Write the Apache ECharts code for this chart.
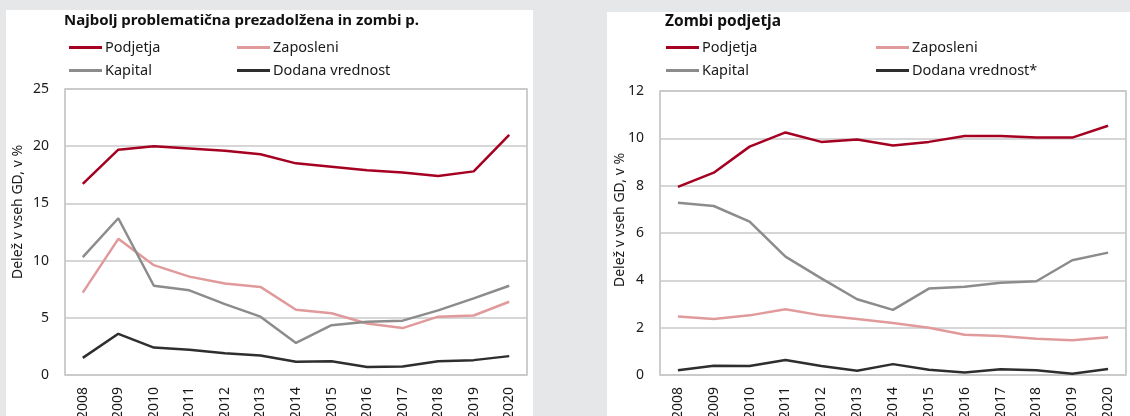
<!DOCTYPE html>
<html>
<head>
<meta charset="utf-8">
<script src="https://cdn.jsdelivr.net/npm/echarts@6/dist/echarts.min.js"></script>
<style>
  html, body { margin: 0; padding: 0; background: #e6e7e9; }
  #chart { width: 1130px; height: 416px; }
</style>
</head>
<body>
<div id="chart"></div>
<script>
  'use strict';

  var years = ['2008', '2009', '2010', '2011', '2012', '2013', '2014', '2015', '2016', '2017', '2018', '2019', '2020'];

  // levo: najbolj problematična prezadolžena in zombi podjetja
  var probPodjetja = [16.7, 19.7, 20.0, 19.8, 19.6, 19.3, 18.5, 18.2, 17.9, 17.7, 17.4, 17.8, 21.0];
  var probZaposleni = [7.2, 11.9, 9.6, 8.6, 8.0, 7.7, 5.7, 5.4, 4.5, 4.1, 5.1, 5.2, 6.4];
  var probKapital = [10.3, 13.7, 7.8, 7.4, 6.2, 5.1, 2.8, 4.35, 4.65, 4.75, 5.65, 6.7, 7.8];
  var probDodana = [1.5, 3.6, 2.4, 2.2, 1.9, 1.7, 1.15, 1.2, 0.7, 0.75, 1.2, 1.3, 1.65];

  // desno: zombi podjetja
  var zombiPodjetja = [7.95, 8.55, 9.65, 10.25, 9.85, 9.95, 9.7, 9.85, 10.1, 10.1, 10.03, 10.03, 10.53];
  var zombiZaposleni = [2.47, 2.37, 2.52, 2.78, 2.52, 2.37, 2.2, 2.0, 1.7, 1.65, 1.53, 1.47, 1.59];
  var zombiKapital = [7.28, 7.14, 6.48, 5.0, 4.08, 3.2, 2.75, 3.65, 3.73, 3.9, 3.96, 4.85, 5.17];
  var zombiDodana = [0.2, 0.39, 0.38, 0.63, 0.38, 0.18, 0.46, 0.22, 0.11, 0.24, 0.2, 0.05, 0.25];

  var font = 'Noto Sans';
  var colors = {
    podjetja: '#a50021',
    zaposleni: '#e09a9b',
    kapital: '#8c8c8c',
    dodana: '#2e2e2e'
  };

  function line(name, data, color, idx) {
    return {
      name: name,
      type: 'line',
      xAxisIndex: idx,
      yAxisIndex: idx,
      data: data,
      symbol: 'none',
      lineStyle: { color: color, width: 2.5 },
      itemStyle: { color: color },
      z: name.indexOf('Podjetja') === 0 ? 5 : 3
    };
  }

  function xAxis(idx) {
    return {
      type: 'category',
      gridIndex: idx,
      data: years,
      boundaryGap: true,
      axisLine: { show: false },
      axisTick: { show: false },
      axisLabel: { rotate: 90, margin: 12, color: '#1a1a1a', fontFamily: font, fontSize: 14 }
    };
  }

  function yAxis(idx, max, interval) {
    return {
      type: 'value',
      gridIndex: idx,
      min: 0,
      max: max,
      interval: interval,
      axisLine: { show: false },
      axisTick: { show: false },
      axisLabel: { margin: 16, color: '#1a1a1a', fontFamily: font, fontSize: 14 },
      splitLine: { lineStyle: { color: '#c8c8c8', width: 1.5 } }
    };
  }

  function legend(left1, left2, names) {
    var base = {
      orient: 'horizontal',
      itemWidth: 33,
      itemHeight: 3,
      itemGap: 0,
      icon: 'rect',
      textStyle: { fontFamily: font, fontSize: 14.5, color: '#1a1a1a', padding: [0, 0, 0, -2] },
      padding: 0
    };
    return [
      Object.assign({}, base, { left: left1, top: 40, data: [names[0]] }),
      Object.assign({}, base, { left: left2, top: 40, data: [names[1]] }),
      Object.assign({}, base, { left: left1, top: 63, data: [names[2]] }),
      Object.assign({}, base, { left: left2, top: 63, data: [names[3]] })
    ];
  }

  var chart = echarts.init(document.getElementById('chart'));

  chart.setOption({
    backgroundColor: '#e6e7e9',
    animation: false,
    textStyle: { fontFamily: font },
    graphic: [
      { type: 'rect', shape: { x: 6, y: 10, width: 527, height: 420 }, style: { fill: '#ffffff' }, z: -10 },
      { type: 'rect', shape: { x: 607, y: 12, width: 530, height: 420 }, style: { fill: '#ffffff' }, z: -10 },
      {
        type: 'text', x: 18, y: 212, rotation: Math.PI / 2,
        style: { text: 'Delež v vseh GD, v %', fill: '#1a1a1a', font: '14px "Noto Sans"', align: 'center', verticalAlign: 'middle' }
      },
      {
        type: 'text', x: 620, y: 220, rotation: Math.PI / 2,
        style: { text: 'Delež v vseh GD, v %', fill: '#1a1a1a', font: '14px "Noto Sans"', align: 'center', verticalAlign: 'middle' }
      }
    ],
    title: [
      {
        text: 'Najbolj problematična prezadolžena in zombi p.',
        left: 64, top: 13, padding: 0,
        textStyle: { fontFamily: font, fontSize: 15, fontWeight: 'bold', color: '#111' }
      },
      {
        text: 'Zombi podjetja',
        left: 665, top: 14, padding: 0,
        textStyle: { fontFamily: font, fontSize: 15.5, fontWeight: 'bold', color: '#111' }
      }
    ],
    legend: legend(69, 237, ['Podjetja', 'Zaposleni', 'Kapital', 'Dodana vrednost'])
      .concat(legend(666, 876, ['Podjetja ', 'Zaposleni ', 'Kapital ', 'Dodana vrednost*'])),
    grid: [
      { left: 65, top: 89, width: 462, height: 286, outerBoundsMode: 'none', show: true, borderColor: '#bdbdbd', borderWidth: 1.5, backgroundColor: 'transparent' },
      { left: 660, top: 91, width: 466, height: 284, outerBoundsMode: 'none', show: true, borderColor: '#bdbdbd', borderWidth: 1.5, backgroundColor: 'transparent' }
    ],
    xAxis: [xAxis(0), xAxis(1)],
    yAxis: [yAxis(0, 25, 5), yAxis(1, 12, 2)],
    series: [
      line('Podjetja', probPodjetja, colors.podjetja, 0),
      line('Zaposleni', probZaposleni, colors.zaposleni, 0),
      line('Kapital', probKapital, colors.kapital, 0),
      line('Dodana vrednost', probDodana, colors.dodana, 0),
      line('Podjetja ', zombiPodjetja, colors.podjetja, 1),
      line('Zaposleni ', zombiZaposleni, colors.zaposleni, 1),
      line('Kapital ', zombiKapital, colors.kapital, 1),
      line('Dodana vrednost*', zombiDodana, colors.dodana, 1)
    ]
  });
</script>
</body>
</html>
